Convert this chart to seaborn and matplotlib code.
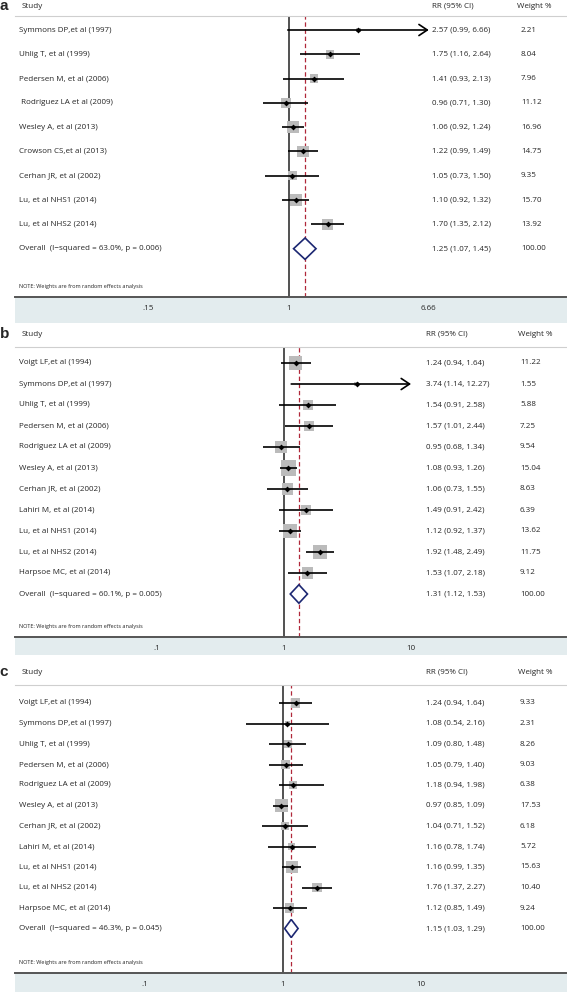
# Forest plots: RR with 95% CI for three meta-analyses (a, b, c)

import matplotlib
matplotlib.use("Agg")
import matplotlib.pyplot as plt
import matplotlib.transforms as mtrans
from matplotlib.patches import Rectangle
import numpy as np
import seaborn as sns

# ---- data -------------------------------------------------------------
studies_a = ["Symmons DP,et al (1997)", "Uhlig T, et al (1999)", "Pedersen M, et al (2006)",
             " Rodriguez LA et al (2009)", "Wesley A, et al (2013)", "Crowson CS,et al (2013)",
             "Cerhan JR, et al (2002)", "Lu, et al NHS1 (2014)", "Lu, et al NHS2 (2014)"]
rr_a = [2.57, 1.75, 1.41, 0.96, 1.06, 1.22, 1.05, 1.10, 1.70]
lo_a = [0.99, 1.16, 0.93, 0.71, 0.92, 0.99, 0.73, 0.92, 1.35]
hi_a = [6.66, 2.64, 2.13, 1.30, 1.24, 1.49, 1.50, 1.32, 2.12]
w_a = [2.21, 8.04, 7.96, 11.12, 16.96, 14.75, 9.35, 15.70, 13.92]
overall_a = [1.25, 1.07, 1.45]
het_a = "Overall  (I\u2212squared = 63.0%, p = 0.006)"
ticks_a = [0.15, 1, 6.66]
ticklabels_a = [".15", "1", "6.66"]

studies_bc = ["Voigt LF,et al (1994)", "Symmons DP,et al (1997)", "Uhlig T, et al (1999)",
              "Pedersen M, et al (2006)", "Rodriguez LA et al (2009)", "Wesley A, et al (2013)",
              "Cerhan JR, et al (2002)", "Lahiri M, et al (2014)", "Lu, et al NHS1 (2014)",
              "Lu, et al NHS2 (2014)", "Harpsoe MC, et al (2014)"]

rr_b = [1.24, 3.74, 1.54, 1.57, 0.95, 1.08, 1.06, 1.49, 1.12, 1.92, 1.53]
lo_b = [0.94, 1.14, 0.91, 1.01, 0.68, 0.93, 0.73, 0.91, 0.92, 1.48, 1.07]
hi_b = [1.64, 12.27, 2.58, 2.44, 1.34, 1.26, 1.55, 2.42, 1.37, 2.49, 2.18]
w_b = [11.22, 1.55, 5.88, 7.25, 9.54, 15.04, 8.63, 6.39, 13.62, 11.75, 9.12]
overall_b = [1.31, 1.12, 1.53]
het_b = "Overall  (I\u2212squared = 60.1%, p = 0.005)"

rr_c = [1.24, 1.08, 1.09, 1.05, 1.18, 0.97, 1.04, 1.16, 1.16, 1.76, 1.12]
lo_c = [0.94, 0.54, 0.80, 0.79, 0.94, 0.85, 0.71, 0.78, 0.99, 1.37, 0.85]
hi_c = [1.64, 2.16, 1.48, 1.40, 1.98, 1.09, 1.52, 1.74, 1.35, 2.27, 1.49]
w_c = [9.33, 2.31, 8.26, 9.03, 6.38, 17.53, 6.18, 5.72, 15.63, 10.40, 9.24]
overall_c = [1.15, 1.03, 1.29]
het_c = "Overall  (I\u2212squared = 46.3%, p = 0.045)"

ticks_bc = [0.1, 1, 10]
ticklabels_bc = [".1", "1", "10"]

note = "NOTE: Weights are from random effects analysis"

# ---- style ------------------------------------------------------------
sns.set_style("white")
plt.rcParams['font.family'] = ['Open Sans', 'DejaVu Sans']

W, H = 567, 992
fig = plt.figure(figsize=(W / 100, H / 100), dpi=100)

FS = 5.8
BOX = '#bbbbbb'
NAVY = '#1c2772'
RED = '#b0283a'
BAND = '#e3ecee'
X0, X1 = 15, 566


def forest(letter, studies, rr, lo, hi, w, overall, het, ticks, ticklabels,
           xlim, top, bottom, row0, step, band_bottom, box_k, rr_x, w_x, w_hx):
    ax = fig.add_axes([X0 / W, 1 - bottom / H, (X1 - X0) / W, (bottom - top) / H])
    ax.set_facecolor('none')
    n = len(studies)
    rows = np.arange(n)

    def r(px):
        return (px - row0) / step

    ax.set_xscale('log')
    ax.set_xlim(*xlim)
    ax.set_ylim(r(bottom), r(top))

    # reference lines
    ax.axvline(1, color='#222222', lw=1.1, zorder=1)
    ax.axvline(overall[0], color=RED, lw=0.9, ls=(0, (3.5, 2.2)), zorder=1)

    # CI lines (arrow when CI reaches past the last tick)
    xmax = ticks[-1]
    for i in range(n):
        if hi[i] >= xmax:
            ax.annotate("", xy=(xmax, i), xytext=(lo[i], i),
                        arrowprops=dict(arrowstyle='->,head_length=0.6,head_width=0.4',
                                        lw=1.2, color='black', shrinkA=0, shrinkB=0),
                        zorder=3)
        else:
            ax.hlines(i, lo[i], hi[i], color='black', lw=1.2, zorder=3)

    # weight boxes and point estimates
    side_pt = box_k * np.sqrt(np.array(w)) * 0.72
    sns.scatterplot(x=rr, y=rows, s=side_pt ** 2, marker='s', color=BOX,
                    edgecolor='none', linewidth=0, ax=ax, legend=False, zorder=2)
    sns.scatterplot(x=rr, y=rows, s=9, marker='D', color='black',
                    edgecolor='black', linewidth=0, ax=ax, legend=False, zorder=4)

    # overall diamond
    est, olo, ohi = overall
    h = 0.44
    ax.fill([olo, est, ohi, est], [n, n - h, n, n + h], facecolor='white',
            edgecolor=NAVY, lw=1.2, zorder=4)

    # text columns
    tr = mtrans.blended_transform_factory(ax.transAxes, ax.transData)

    def fx(px):
        return (px - X0) / (X1 - X0)

    hy = r(top - 10 if letter == 'a' else top - 13)
    ax.text(fx(0) - 0.001, hy, letter, transform=tr, ha='left', va='center',
            fontsize=11, fontweight='bold', family=['Liberation Sans', 'DejaVu Sans'])
    ax.text(fx(22), hy, "Study", transform=tr, ha='left', va='center', fontsize=FS)
    ax.text(fx(rr_x), hy, "RR (95% CI)", transform=tr, ha='left', va='center', fontsize=FS)
    ax.text(fx(w_hx), hy, "Weight %", transform=tr, ha='left', va='center', fontsize=FS)

    for i in range(n):
        ax.text(fx(19), i, studies[i], transform=tr, ha='left', va='center', fontsize=FS)
        ax.text(fx(rr_x), i, f"{rr[i]:.2f} ({lo[i]:.2f}, {hi[i]:.2f})", transform=tr,
                ha='left', va='center', fontsize=FS)
        ax.text(fx(w_x), i, f"{w[i]:.2f}", transform=tr, ha='left', va='center', fontsize=FS)
    ax.text(fx(19), n, het, transform=tr, ha='left', va='center', fontsize=FS)
    ax.text(fx(rr_x), n, f"{est:.2f} ({olo:.2f}, {ohi:.2f})", transform=tr,
            ha='left', va='center', fontsize=FS)
    ax.text(fx(w_x), n, "100.00", transform=tr, ha='left', va='center', fontsize=FS)
    ax.text(fx(19), r(bottom - 10.5), note, transform=tr, ha='left', va='center', fontsize=4.0)

    # axis
    ax.set_xticks(ticks)
    ax.set_xticklabels(ticklabels)
    ax.xaxis.set_minor_locator(matplotlib.ticker.NullLocator())
    ax.set_yticks([])
    ax.tick_params(axis='x', direction='out', length=3.5, width=0.9, color='#444444',
                   pad=2, labelsize=FS)
    for s in ('left', 'right'):
        ax.spines[s].set_visible(False)
    ax.spines['top'].set_color('#cfcfcf')
    ax.spines['top'].set_linewidth(0.8)
    ax.spines['bottom'].set_color('#555555')
    ax.spines['bottom'].set_linewidth(1.4)

    fig.add_artist(Rectangle((X0 / W, 1 - band_bottom / H), (W - X0) / W,
                             (band_bottom - bottom) / H, transform=fig.transFigure,
                             facecolor=BAND, edgecolor='none', zorder=-5))
    return ax


forest('a', studies_a, rr_a, lo_a, hi_a, w_a, overall_a, het_a, ticks_a, ticklabels_a,
       (0.02475, 42.6), 16, 297, 30, 24.3, 323, 3.0, 432, 521, 517)
forest('b', studies_bc, rr_b, lo_b, hi_b, w_b, overall_b, het_b, ticks_bc, ticklabels_bc,
       (0.00762, 166), 347, 637, 363, 21.0, 655, 3.9, 426, 520, 518)
forest('c', studies_bc, rr_c, lo_c, hi_c, w_c, overall_c, het_c, ticks_bc, ticklabels_bc,
       (0.01143, 113), 685, 973, 703, 20.5, 992, 3.1, 426, 520, 518)

fig.savefig("out.png", dpi=100)
